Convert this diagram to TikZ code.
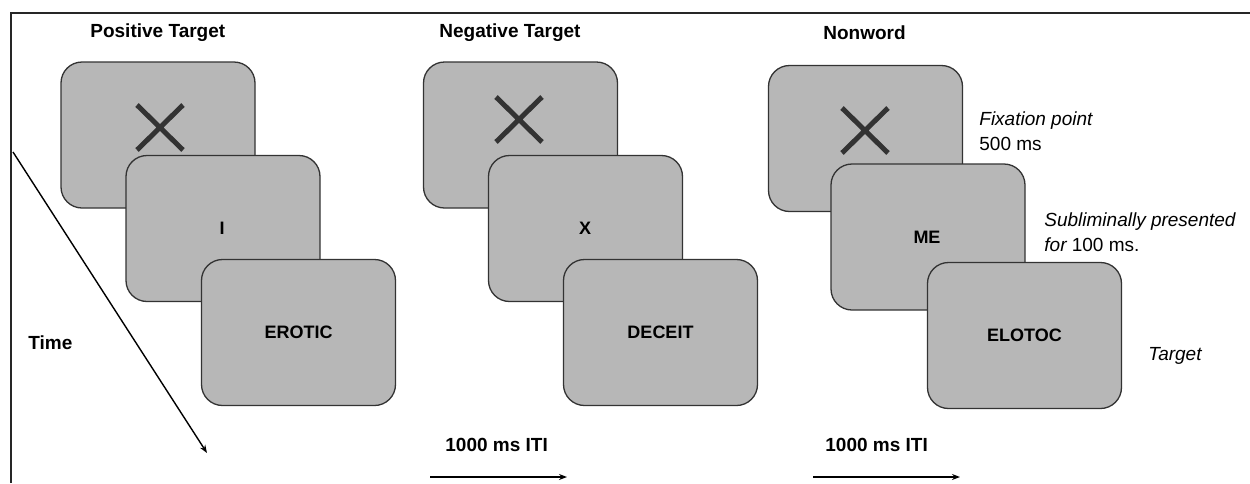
\documentclass[tikz,border=0pt]{standalone}
\usepackage{fontspec}
\setmainfont{Liberation Sans}
\usetikzlibrary{arrows.meta}
\definecolor{scr}{HTML}{B7B7B7}
\definecolor{scredge}{HTML}{333333}
\definecolor{xmark}{HTML}{333333}
\begin{document}
\begin{tikzpicture}[x=0.5pt,y=-0.5pt,
  screen/.style={draw=scredge,line width=0.65pt,fill=scr,rounded corners=10.5pt,
    minimum width=97pt,minimum height=73pt,inner sep=0pt,
    font=\fontsize{9}{10}\selectfont\bfseries},
  wordlbl/.style={inner sep=0pt,font=\fontsize{9}{10}\selectfont\bfseries},
  title/.style={anchor=west,inner sep=0pt,font=\fontsize{9.5}{11}\selectfont\bfseries},
  note/.style={anchor=west,inner sep=0pt,align=left,font=\fontsize{9.5}{12.3}\selectfont},
  xline/.style={draw=xmark,line width=2.5pt},
  arr/.style={line width=0.7pt,-{Stealth[length=4pt,width=3pt]}}]
\useasboundingbox (0,0) rectangle (1250,483);
% frame
\draw[line width=0.7pt,black!85] (11,483) -- (11,13) -- (1250,13);
% titles
\node[title] (t1) at (90,33) {Positive Target};
\node[title] (t2) at (439,33) {Negative Target};
\node[title] (t3) at (823,33) {Nonword};
% group 1
\node[screen] (a1) at (158,135) {};
\draw[xline] (137,105) -- (183,150) (183,105) -- (137,150);
\node[screen] (b1) at (223,228.5) {};
\node[wordlbl] (w1) at (222,228) {I};
\node[screen] (c1) at (298.5,332.5) {EROTIC};
% group 2
\node[screen] (a2) at (520.5,135) {};
\draw[xline] (496,97) -- (542,142) (542,97) -- (496,142);
\node[screen] (b2) at (585.5,228.5) {};
\node[wordlbl] (w2) at (585,228) {X};
\node[screen] (c2) at (660.5,332.5) {DECEIT};
% group 3
\node[screen] (a3) at (865.5,138.5) {};
\draw[xline] (842,108) -- (888,153) (888,108) -- (842,153);
\node[screen] (b3) at (928,237) {};
\node[wordlbl] (w3) at (927,237) {ME};
\node[screen] (c3) at (1024.5,335.5) {ELOTOC};
% side notes
\node[note] (n1) at (979,131) {\itshape Fixation point\\500 ms};
\node[note] (n2) at (1044,232.5) {\itshape Subliminally presented\\\itshape for \upshape 100 ms.};
\node[note] (n3) at (1148,356) {\itshape Target};
% time
\node[title] (time) at (28,343) {Time};
\coordinate (ts) at (13,152);
\coordinate (te) at (207,453);
\draw[arr] (ts) -- (te);
% ITI
\node[title] (iti2) at (445,445) {1000 ms ITI};
\node[title] (iti3) at (825,445) {1000 ms ITI};
\coordinate (i2s) at (430,477);
\coordinate (i2e) at (567,477);
\coordinate (i3s) at (813,477);
\coordinate (i3e) at (960,477);
\draw[arr] (i2s) -- (i2e);
\draw[arr] (i3s) -- (i3e);
\end{tikzpicture}
\end{document}
